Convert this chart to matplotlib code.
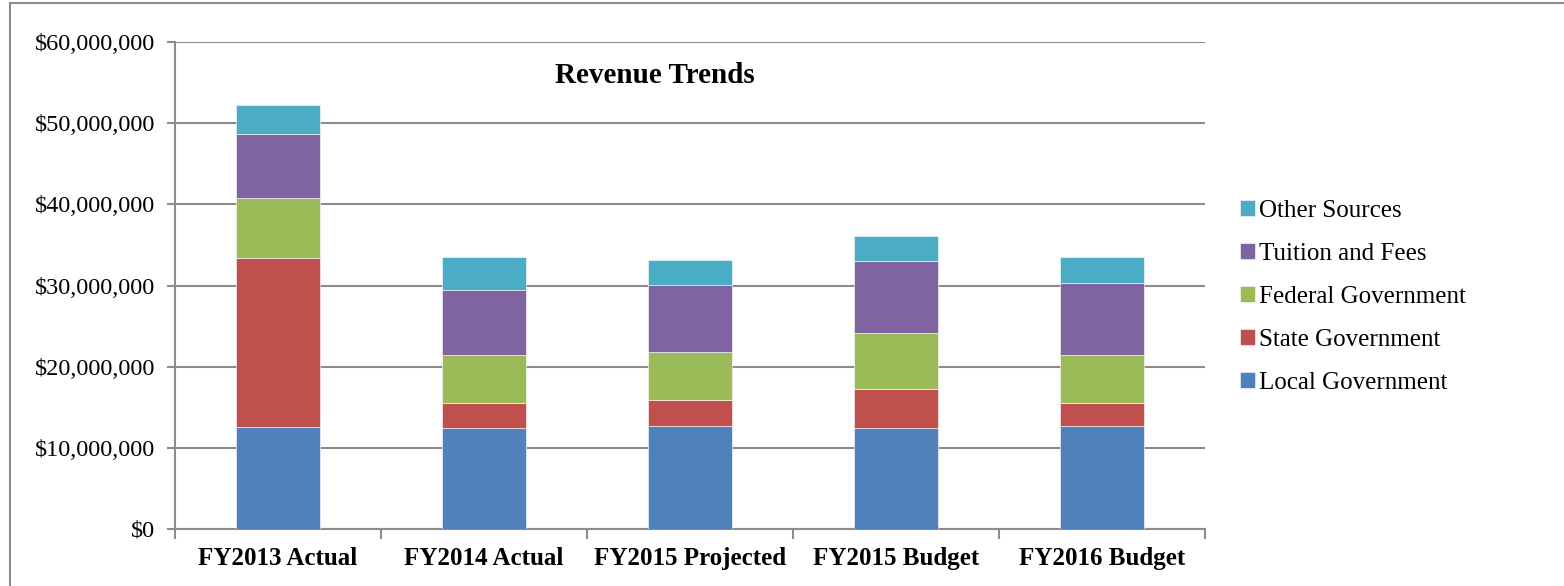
import matplotlib
matplotlib.use("Agg")
import matplotlib.pyplot as plt
from matplotlib.lines import Line2D
from matplotlib.ticker import FuncFormatter, MultipleLocator
import numpy as np

categories = ["FY2013 Actual", "FY2014 Actual", "FY2015 Projected", "FY2015 Budget", "FY2016 Budget"]
series_names = ["Local Government", "State Government", "Federal Government", "Tuition and Fees", "Other Sources"]

# values in dollars
local_gov = [12.56e6, 12.50e6, 12.65e6, 12.50e6, 12.65e6]
state_gov = [20.84e6, 3.05e6, 3.20e6, 4.80e6, 2.90e6]
federal_gov = [7.40e6, 5.85e6, 5.95e6, 6.80e6, 5.85e6]
tuition_fees = [7.90e6, 8.10e6, 8.30e6, 8.90e6, 8.90e6]
other_sources = [3.50e6, 4.00e6, 3.10e6, 3.10e6, 3.15e6]

colors = ["#4F81BD", "#C0504D", "#9BBB59", "#8064A2", "#4BACC6"]

plt.rcParams["font.family"] = ["Liberation Serif", "DejaVu Serif"]

fig = plt.figure(figsize=(15.64, 5.86), dpi=100)
ax = fig.add_axes([175 / 1564, 1 - 529 / 586, 1030 / 1564, 487 / 586])

x = np.arange(len(categories))
bottom = np.zeros(len(categories))
handles = []
for name, vals, c in zip(series_names,
                         [local_gov, state_gov, federal_gov, tuition_fees, other_sources],
                         colors):
    b = ax.bar(x, vals, width=0.403, bottom=bottom, color=c, label=name,
               edgecolor="white", linewidth=0.4, zorder=3)
    bottom += np.array(vals)
    handles.append(b)

ax.set_xlim(-0.5, len(categories) - 0.5)
ax.set_ylim(0, 60e6)
ax.yaxis.set_major_locator(MultipleLocator(10e6))
ax.yaxis.set_major_formatter(FuncFormatter(lambda v, p: f"${v:,.0f}"))
ax.grid(axis="y", color="#8c8c8c", linewidth=1.5, zorder=0)

ax.set_xticks(x)
ax.set_xticklabels(categories, fontsize=18, fontweight="bold")
ax.set_xticks(np.arange(-0.5, len(categories)), minor=True)
ax.tick_params(axis="x", which="major", length=0, pad=13)
ax.tick_params(axis="x", which="minor", length=7, width=1.5, color="#8c8c8c")
ax.tick_params(axis="y", length=6, width=1.5, color="#8c8c8c", labelsize=17.5, pad=8)

for side in ["top", "right"]:
    ax.spines[side].set_visible(False)
for side in ["left", "bottom"]:
    ax.spines[side].set_color("#8c8c8c")
    ax.spines[side].set_linewidth(1.5)

ax.text(0.466, 0.932, "Revenue Trends", transform=ax.transAxes,
        ha="center", va="center", fontsize=21, fontweight="bold")

leg = fig.legend(handles[::-1], series_names[::-1],
                 loc="center left", bbox_to_anchor=(1217 / 1564, 1 - 297 / 586),
                 frameon=False, fontsize=18, handlelength=0.6, handleheight=0.6,
                 handletextpad=0.18, labelspacing=0.84)

# outer chart border (left and top edges visible)
fig.add_artist(Line2D([10 / 1564, 10 / 1564], [0, 1 - 3 / 586],
                      transform=fig.transFigure, color="#8c8c8c", linewidth=1.5))
fig.add_artist(Line2D([10 / 1564, 1], [1 - 3 / 586, 1 - 3 / 586],
                      transform=fig.transFigure, color="#8c8c8c", linewidth=1.5))

fig.savefig("out.png", dpi=100)
